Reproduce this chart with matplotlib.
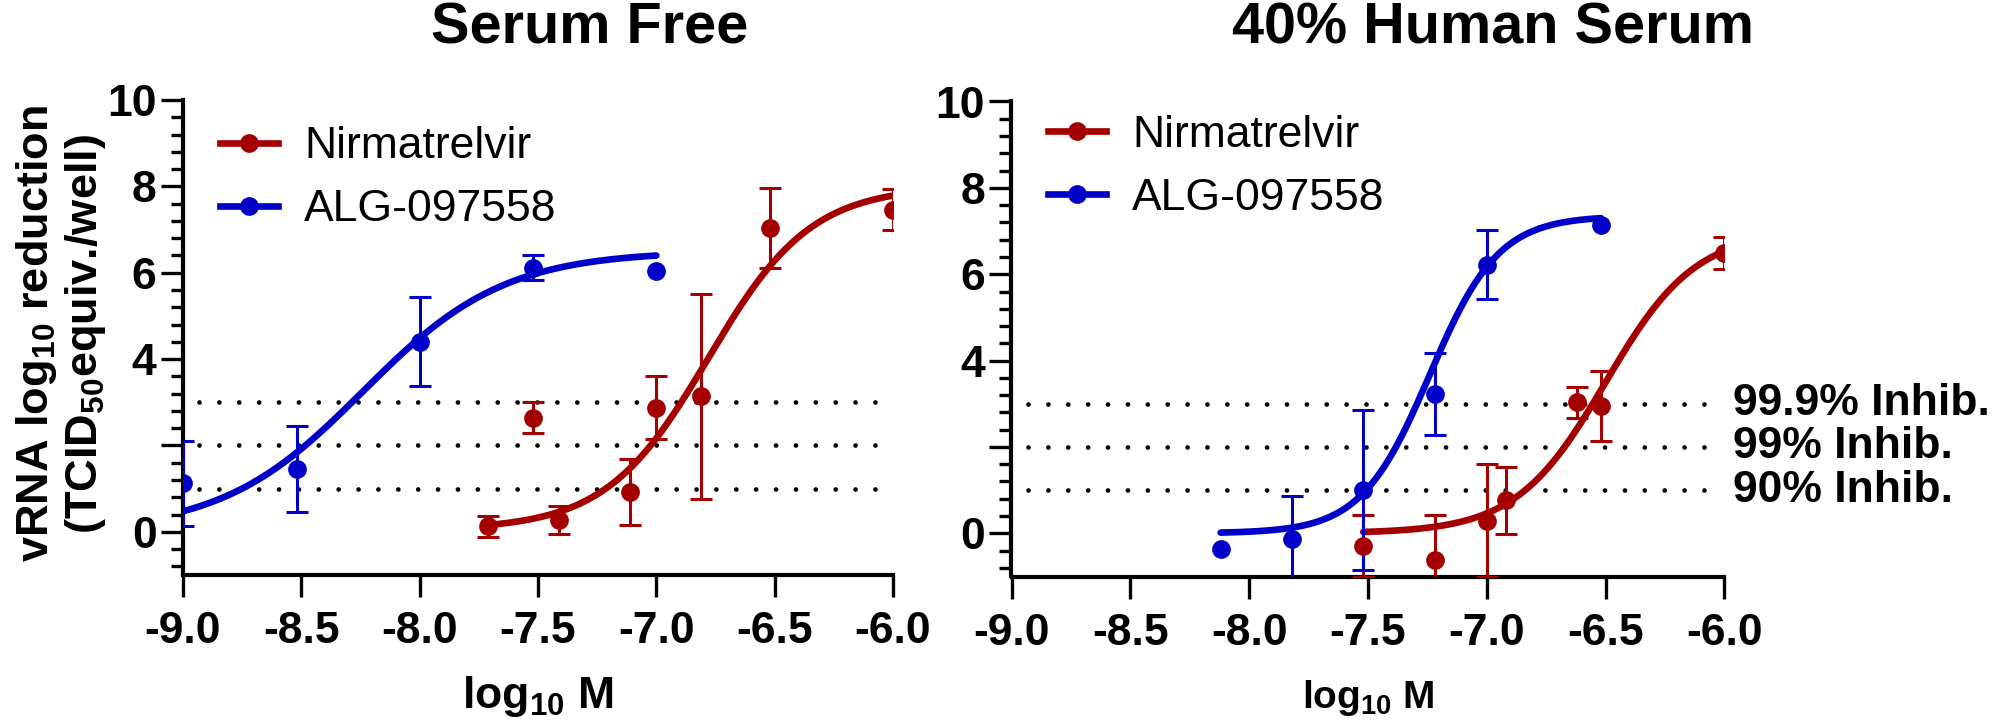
import numpy as np
import matplotlib
matplotlib.use('Agg')
import matplotlib.pyplot as plt
from matplotlib.lines import Line2D
from matplotlib.ticker import FixedLocator, FixedFormatter
import matplotlib.transforms as mtransforms

plt.rcParams['font.family'] = ['Liberation Sans', 'DejaVu Sans']
plt.rcParams['font.weight'] = 'bold'
plt.rcParams['axes.unicode_minus'] = False
plt.rcParams['mathtext.fontset'] = 'custom'
plt.rcParams['mathtext.rm'] = 'Liberation Sans:bold'
plt.rcParams['mathtext.it'] = 'Liberation Sans:bold'
plt.rcParams['mathtext.bf'] = 'Liberation Sans:bold'

"""data read off the picture"""
# Serum Free
sf_nir_x = [-7.71, -7.41, -7.52, -7.11, -7.0, -6.81, -6.52, -6.0]
sf_nir_y = [0.13, 0.27, 2.64, 0.92, 2.87, 3.14, 7.04, 7.46]
sf_nir_err = [0.24, 0.32, 0.36, 0.77, 0.73, 2.37, 0.92, 0.48]
sf_alg_x = [-9.0, -8.52, -8.0, -7.52, -7.0]
sf_alg_y = [1.12, 1.46, 4.40, 6.12, 6.04]
sf_alg_err = [0.98, 0.99, 1.03, 0.28, np.nan]

# 40% Human Serum
hs_nir_x = [-7.52, -7.22, -7.0, -6.92, -6.62, -6.52, -6.0]
hs_nir_y = [-0.30, -0.62, 0.29, 0.76, 3.03, 2.95, 6.49]
hs_nir_err = [0.72, 1.05, 1.31, 0.77, 0.35, 0.81, 0.37]
hs_alg_x = [-8.12, -7.82, -7.52, -7.22, -7.0, -6.52]
hs_alg_y = [-0.36, -0.13, 1.00, 3.22, 6.22, 7.15]
hs_alg_err = [np.nan, 1.0, 1.85, 0.95, 0.80, np.nan]

# fitted dose-response curves: bottom, top, logEC50, Hill slope ; drawn span
sf_nir_fit = [0.05, 8.0, -6.78, 2.0]
sf_nir_span = [-7.71, -6.0]
sf_alg_fit = [0.0, 6.5, -8.24, 1.45]
sf_alg_span = [-9.0, -7.0]
hs_nir_fit = [0.0, 7.0, -6.50, 2.3]
hs_nir_span = [-7.52, -6.0]
hs_alg_fit = [0.0, 7.35, -7.24, 3.0]
hs_alg_span = [-8.12, -6.52]

series_names = ['Nirmatrelvir', 'ALG-097558']
panel_titles = ['Serum Free', '40% Human Serum']
inhib_levels = [3, 2, 1]
inhib_labels = ['99.9% Inhib.', '99% Inhib.', '90% Inhib.']

xticks = [-9.0, -8.5, -8.0, -7.5, -7.0, -6.5, -6.0]
xtick_labels = ['-9.0', '-8.5', '-8.0', '-7.5', '-7.0', '-6.5', '-6.0']
yticks = [0, 2, 4, 6, 8, 10]
ytick_labels = ['0', '', '4', '6', '8', '10']
yminor = [-0.8, -0.4, 0.4, 0.8, 1.2, 1.6, 2.4, 2.8, 3.2, 3.6, 4.4, 4.8, 5.2, 5.6,
          6.4, 6.8, 7.2, 7.6, 8.4, 8.8, 9.2, 9.6]

red = '#A50000'
blue = '#0000C8'


def four_pl(x, p):
    bottom, top, logec50, hill = p
    return bottom + (top - bottom) / (1 + 10 ** ((logec50 - x) * hill))


def draw_series(ax, x, y, err, fit, span, color):
    xs = np.linspace(span[0], span[1], 300)
    ax.plot(xs, four_pl(xs, fit), color=color, lw=4.8, zorder=2,
            solid_capstyle='round')
    ax.errorbar(x, y, yerr=err, fmt='none', ecolor=color, elinewidth=2.2,
                capsize=7.6, capthick=2.2, zorder=3)
    ax.plot(x, y, 'o', color=color, ms=13.5, mew=0, zorder=4)


def style_axes(ax):
    ax.set_xlim(-9.0, -6.0)
    ax.set_ylim(-1.0, 10.0)
    for s in ['top', 'right']:
        ax.spines[s].set_visible(False)
    for s in ['left', 'bottom']:
        ax.spines[s].set_linewidth(3)
    ax.xaxis.set_major_locator(FixedLocator(xticks))
    ax.xaxis.set_major_formatter(FixedFormatter(xtick_labels))
    ax.yaxis.set_major_locator(FixedLocator(yticks))
    ax.yaxis.set_major_formatter(FixedFormatter(ytick_labels))
    ax.yaxis.set_minor_locator(FixedLocator(yminor))
    ax.tick_params(axis='both', which='major', length=16, width=2.4,
                   labelsize=32, direction='out')
    ax.tick_params(axis='x', pad=10)
    ax.tick_params(axis='y', pad=3)
    ax.tick_params(axis='y', which='minor', length=9, width=2.4)
    for lvl in inhib_levels:
        ax.axhline(lvl, xmin=0.023, xmax=0.983, color='black', lw=3.4,
                   ls=(0, (0.01, 4.2)), dash_capstyle='round', zorder=1)


fig = plt.figure(figsize=(20.06, 7.21), dpi=100)
ax1 = fig.add_axes([183 / 2006, 1 - 575 / 721, 710 / 2006, 475 / 721])
ax2 = fig.add_axes([1011.5 / 2006, 1 - 576.5 / 721, 713 / 2006, 475 / 721])

for ax in (ax1, ax2):
    style_axes(ax)

draw_series(ax1, sf_nir_x, sf_nir_y, sf_nir_err, sf_nir_fit, sf_nir_span, red)
draw_series(ax1, sf_alg_x, sf_alg_y, sf_alg_err, sf_alg_fit, sf_alg_span, blue)
draw_series(ax2, hs_nir_x, hs_nir_y, hs_nir_err, hs_nir_fit, hs_nir_span, red)
draw_series(ax2, hs_alg_x, hs_alg_y, hs_alg_err, hs_alg_fit, hs_alg_span, blue)

handles = [Line2D([], [], color=c, lw=4.8, marker='o', ms=13.5, mew=0)
           for c in (red, blue)]
for ax, anchor in ((ax1, (0.052, 0.945)), (ax2, (0.051, 0.972))):
    ax.legend(handles, series_names, loc='upper left', bbox_to_anchor=anchor,
              frameon=False, handlelength=1.3, handletextpad=0.6,
              labelspacing=0.5, borderaxespad=0, borderpad=0,
              prop={'weight': 'normal', 'size': 32})

ax1.set_xlabel('log$_{10}$ M', fontsize=32, fontweight='bold', va='baseline')
ax1.xaxis.set_label_coords(0.5, (575 - 708) / 475)
ax2.set_xlabel('log$_{10}$ M', fontsize=28, fontweight='bold', va='baseline')
ax2.xaxis.set_label_coords(0.5, (576.5 - 708) / 475)

trans = mtransforms.blended_transform_factory(ax2.transAxes, ax2.transData)
for lvl, lab in zip(inhib_levels, inhib_labels):
    ax2.text(1.012, lvl, lab, transform=trans, ha='left', va='center',
             fontsize=32, clip_on=False)

fig.text(590 / 2006, 1 - 44 / 721, panel_titles[0], ha='center', va='baseline',
         fontsize=41.5)
fig.text(1493 / 2006, 1 - 44 / 721, panel_titles[1], ha='center', va='baseline',
         fontsize=41.5)
fig.text(61 / 2006, 1 - 334 / 721,
         'vRNA log$_{10}$ reduction\n(TCID$_{50}$equiv./well)',
         rotation=90, ha='center', va='center', fontsize=32.5, linespacing=1.1)

fig.savefig('out.png', dpi=100)
